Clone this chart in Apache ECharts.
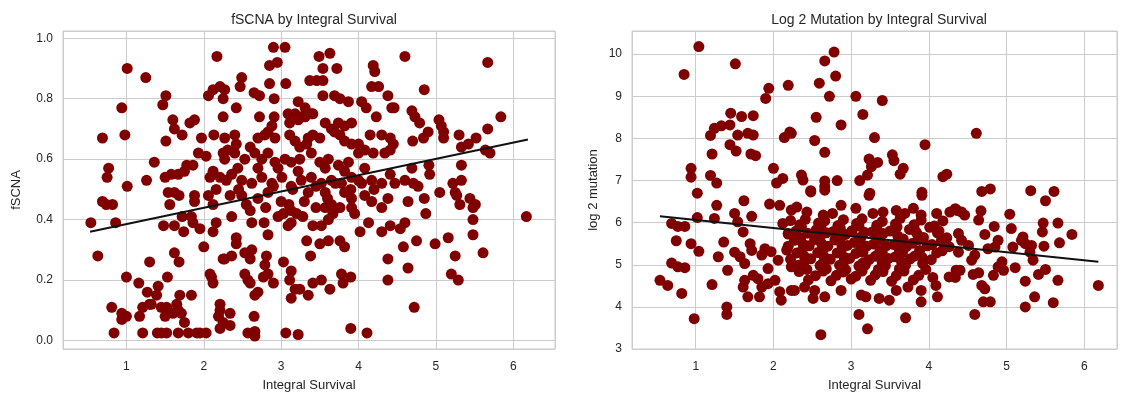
<!DOCTYPE html>
<html>
<head>
<meta charset="utf-8">
<script src="https://cdn.jsdelivr.net/npm/echarts@6/dist/echarts.min.js"></script>
<style>
  html, body { margin: 0; padding: 0; background: #ffffff; }
  #chart { width: 1122px; height: 399px; }
</style>
</head>
<body>
<div id="chart"></div>
<script>
// Integral survival vs. fSCNA, one [survival, fSCNA] pair per sample
const fscnaPoints = [
  [2.17,0.94],[1.01,0.90],[1.25,0.87],[2.12,0.83],[2.21,0.84],[2.27,0.83],[2.06,0.81],[2.25,0.80],[1.51,0.81],[1.47,0.78],
  [0.94,0.77],[2.25,0.74],[1.60,0.73],[1.62,0.70],[1.72,0.68],[1.82,0.72],[1.88,0.73],[0.69,0.67],[0.98,0.68],[1.51,0.66],
  [1.97,0.67],[2.13,0.68],[2.27,0.67],[1.93,0.62],[2.03,0.61],[2.25,0.62],[2.27,0.60],[1.36,0.59],[0.77,0.57],[0.75,0.54],
  [1.78,0.58],[1.86,0.58],[1.75,0.56],[1.67,0.55],[1.58,0.55],[1.50,0.54],[2.12,0.56],[2.08,0.54],[2.21,0.54],[2.29,0.53],
  [1.26,0.53],[1.01,0.51],
  [0.69,0.46],[0.74,0.45],[0.82,0.45],[0.54,0.39],[0.86,0.39],[0.63,0.28],[1.54,0.49],[1.62,0.49],[1.56,0.45],[1.68,0.48],
  [1.88,0.48],[1.88,0.46],[2.12,0.45],[2.06,0.48],[2.16,0.50],[1.72,0.41],[1.84,0.41],[1.86,0.39],[1.74,0.36],[1.62,0.38],
  [1.48,0.38],[1.95,0.37],[2.16,0.39],[2.12,0.36],[2.00,0.31],[1.62,0.29],[1.68,0.26],[1.30,0.26],[2.25,0.27],[1.00,0.21],
  [1.53,0.21],[1.16,0.19],[1.27,0.16],[1.41,0.18],[1.39,0.15],[1.30,0.12],[2.08,0.22],[2.10,0.21],[2.12,0.19],[0.81,0.11],
  [0.94,0.09],[1.00,0.08],[0.94,0.07],[1.17,0.08],[1.21,0.11],[1.32,0.12],[1.45,0.11],[1.52,0.11],[1.50,0.08],[1.60,0.09],
  [1.65,0.12],[1.69,0.15],[1.84,0.15],[1.67,0.10],[1.71,0.09],[1.75,0.06],[2.21,0.12],[2.21,0.10],[2.19,0.08],[2.25,0.06],
  [0.84,0.025],[1.21,0.025],[1.40,0.025],[1.45,0.025],[1.52,0.025],[1.67,0.025],[1.80,0.025],[1.91,0.025],[1.95,0.025],[2.03,0.025],
  [2.21,0.04],
  [2.36,0.41],[2.60,0.43],[2.62,0.39],[2.78,0.39],[2.96,0.41],[3.03,0.42],[3.13,0.43],[3.20,0.42],[3.28,0.41],[3.13,0.39],
  [3.09,0.38],[3.41,0.38],[3.52,0.38],[3.57,0.44],[3.65,0.45],[3.67,0.42],[3.76,0.44],[3.61,0.40],[3.91,0.47],[3.91,0.44],
  [4.13,0.39],[4.02,0.36],[4.30,0.36],[4.41,0.38],[4.08,0.48],[4.17,0.46],[4.38,0.47],[2.34,0.48],[2.49,0.48],[2.83,0.49],
  [3.35,0.49],[3.57,0.49],[3.82,0.49],[2.42,0.34],[2.42,0.32],[2.83,0.35],[3.33,0.33],[3.50,0.32],[3.61,0.33],[3.76,0.33],
  [3.82,0.31],[3.38,0.28],[2.27,0.27],[2.36,0.28],[2.53,0.29],[2.62,0.30],[2.60,0.27],[2.81,0.28],[2.79,0.25],[2.83,0.22],
  [3.03,0.26],[3.13,0.23],[3.11,0.20],[3.18,0.17],[2.53,0.22],[2.57,0.20],[2.60,0.19],[2.77,0.21],[2.90,0.19],[2.70,0.16],
  [2.66,0.15],[3.13,0.14],[3.24,0.17],[3.35,0.15],[3.41,0.19],[3.52,0.20],[3.63,0.17],[3.80,0.19],[3.78,0.22],[3.90,0.21],
  [4.38,0.27],[4.38,0.20],[2.34,0.09],[2.34,0.05],[2.65,0.08],[2.57,0.025],[2.66,0.03],[2.66,0.015],[3.06,0.025],[3.22,0.02],
  [3.90,0.04],[4.11,0.025],
  [6.17,0.41],[5.48,0.40],[5.48,0.35],[5.61,0.29],[5.25,0.28],[5.16,0.34],[4.99,0.32],[4.87,0.42],[4.85,0.47],[4.64,0.46],
  [4.60,0.39],[4.54,0.37],[4.75,0.33],[4.58,0.31],[4.64,0.24],[5.20,0.22],[5.29,0.20],[4.72,0.11],[5.31,0.45],[5.44,0.47],
  [5.51,0.45],[5.48,0.44],[5.05,0.49],[5.27,0.48],
  [2.90,0.97],[3.05,0.97],[3.49,0.94],[3.63,0.95],[2.85,0.91],[2.95,0.92],[3.54,0.90],[3.72,0.90],[4.19,0.91],[4.21,0.89],
  [2.49,0.87],[2.47,0.84],[2.85,0.85],[3.06,0.85],[3.37,0.86],[3.46,0.86],[3.54,0.86],[4.17,0.84],[4.26,0.84],[2.65,0.82],
  [2.72,0.81],[2.91,0.80],[3.54,0.81],[3.69,0.81],[3.76,0.80],[3.87,0.79],[4.38,0.81],[3.22,0.79],[3.31,0.77],[3.39,0.75],
  [2.42,0.77],[4.04,0.79],[4.10,0.77],[4.43,0.77],[2.72,0.74],[2.91,0.74],[3.09,0.75],[3.18,0.75],[3.26,0.74],[3.11,0.72],
  [3.22,0.73],[3.31,0.74],[3.41,0.75],[4.23,0.74],[3.57,0.72],[3.65,0.70],[3.74,0.72],[3.82,0.71],[3.91,0.72],[2.40,0.68],
  [2.42,0.65],[2.60,0.64],[2.70,0.67],[2.79,0.68],[2.88,0.71],[2.83,0.69],[2.92,0.67],[3.11,0.68],[3.18,0.66],[3.24,0.64],
  [3.35,0.67],[3.41,0.68],[3.50,0.67],[3.33,0.65],[3.69,0.69],[3.76,0.68],[3.82,0.66],[3.91,0.65],[4.00,0.65],[4.15,0.68],
  [4.30,0.68],[4.41,0.67],[4.00,0.62],[4.08,0.63],[4.19,0.62],[4.34,0.62],[4.41,0.63],[2.31,0.63],[2.40,0.62],[2.53,0.60],
  [2.66,0.62],[2.75,0.60],[2.83,0.62],[2.92,0.59],[3.05,0.60],[3.13,0.59],[3.24,0.60],[3.39,0.62],[3.50,0.59],[3.61,0.60],
  [3.74,0.58],[3.87,0.59],
  [2.36,0.55],[2.49,0.53],[2.62,0.52],[2.75,0.54],[2.88,0.52],[3.01,0.54],[3.13,0.51],[3.26,0.53],[3.39,0.54],[3.52,0.52],
  [3.65,0.53],[3.78,0.52],[3.91,0.54],[4.04,0.52],[4.17,0.53],[4.30,0.52],[4.41,0.55],[2.44,0.57],[2.70,0.57],[2.96,0.57],
  [3.22,0.56],[3.57,0.57],[3.82,0.56],[4.08,0.57],[2.45,0.50],[2.70,0.47],[2.90,0.51],[3.00,0.46],[3.15,0.50],[3.30,0.46],
  [3.45,0.51],[3.60,0.47],[3.70,0.52],[3.90,0.50],[4.00,0.53],[4.20,0.50],[4.30,0.44],[2.55,0.45],[2.80,0.44],[3.10,0.45],
  [3.45,0.44],[3.95,0.42],
  [4.60,0.94],[5.67,0.92],[4.85,0.83],[4.46,0.77],[4.69,0.76],[4.73,0.74],[4.79,0.72],[4.90,0.69],[4.84,0.67],[4.70,0.66],
  [5.04,0.73],[5.07,0.71],[5.10,0.69],[5.10,0.67],[5.30,0.68],[5.52,0.67],[5.67,0.70],[5.84,0.74],[5.33,0.64],[5.42,0.65],
  [5.64,0.63],[5.70,0.62],[4.45,0.65],[4.69,0.57],[4.91,0.58],[4.92,0.55],[5.33,0.58],[4.60,0.53],[4.71,0.52],[4.77,0.51],
  [4.47,0.52],[5.22,0.52],[5.33,0.53],[5.25,0.49]
];

// Integral survival vs. log2 mutation count, one [survival, log2 mutation] pair per sample
const mutationPoints = [
  [1.04,10.18],[0.85,9.52],[1.51,9.77],[1.94,9.19],[1.90,8.95],[2.19,9.26],[1.45,8.60],[1.59,8.52],[1.74,8.54],[1.24,8.24],
  [1.33,8.30],[1.44,8.32],[1.19,8.07],[1.54,8.08],[1.67,8.12],[1.74,8.08],[2.14,8.02],[2.21,8.15],[1.44,7.85],[1.52,7.70],
  [1.21,7.63],[1.71,7.63],[1.77,7.59],[0.94,7.29],[0.94,7.08],[1.19,7.12],[1.27,6.94],[2.00,7.29],[2.12,7.05],[2.04,6.94],
  [1.02,6.70],
  [2.78,10.05],[2.66,9.84],[2.80,9.48],[2.59,9.31],[2.72,9.00],[3.06,9.00],[3.40,8.90],[3.15,8.57],[2.55,8.50],[2.87,8.32],
  [2.23,8.12],[2.53,7.95],[2.66,7.67],[3.30,8.02],[3.95,7.85],[3.23,7.51],[3.34,7.43],[3.26,7.33],[3.53,7.61],[3.55,7.47],
  [3.67,7.29],[3.63,7.15],[3.21,7.13],[3.11,7.00],[2.36,7.13],[2.38,7.01],[2.48,6.76],[2.66,6.99],[2.66,6.86],[2.82,7.00],
  [4.18,7.09],[4.23,7.15],[3.24,6.70],[3.91,6.72],
  [4.61,8.12],[4.68,6.74],[4.79,6.80],[5.31,6.76],[5.61,6.74],
  [1.27,6.41],[1.62,6.52],[1.50,6.22],[1.72,6.15],[1.95,6.44],[2.08,6.41],[1.02,6.12],[1.24,6.10],[1.54,6.02],[0.69,5.98],
  [0.77,5.91],[0.86,5.91],[1.61,5.78],[0.75,5.57],[0.94,5.50],[1.04,5.32],[1.36,5.54],[1.29,5.19],[1.41,4.87],[1.50,5.30],
  [1.57,5.19],[1.70,5.50],[1.72,5.34],[1.63,5.03],[1.85,5.23],[1.89,5.38],[1.97,5.31],[1.93,4.91],[2.06,5.11],[2.12,5.98],
  [2.19,5.74],[2.23,6.30],[2.17,5.35],[2.23,4.95],[0.69,5.04],[0.77,4.95],[0.86,4.93],[1.21,4.53],[0.54,4.63],[0.64,4.51],
  [0.82,4.32],[1.63,4.63],[1.74,4.75],[1.80,4.67],[1.85,4.47],[1.93,4.55],[2.02,4.63],[1.61,4.47],[1.67,4.24],[1.82,4.24],
  [2.08,4.36],[2.10,4.16],[2.23,4.39],[1.40,4.00],[1.40,3.82],[0.98,3.72],
  [2.48,6.73],[2.66,6.77],[3.23,6.65],[3.91,6.65],
  [2.30,6.37],[2.43,6.25],[2.64,6.18],[2.76,6.22],[2.87,6.41],[3.06,6.34],[3.28,6.22],[3.41,6.25],[3.58,6.29],[3.69,6.22],
  [3.80,6.34],[3.90,6.18],[4.10,6.22],[4.27,6.25],[4.36,6.29],
  // dense middle of the cloud
  [2.22,6.05],[2.34,5.95],[2.41,6.08],[2.58,5.99],[2.66,6.04],[2.83,5.93],[2.90,6.07],[3.07,5.98],[3.14,6.09],[3.33,5.94],
  [3.40,6.03],[3.57,5.97],[3.63,6.10],[3.81,5.95],[3.90,6.06],[4.07,5.92],[4.18,6.04],
  [2.29,5.80],[2.36,5.90],[2.55,5.83],[2.61,5.91],[2.77,5.79],[2.86,5.87],[3.01,5.81],[3.10,5.92],[3.27,5.78],[3.33,5.88],
  [3.50,5.80],[3.59,5.90],[3.75,5.84],[3.83,5.79],[4.01,5.89],[4.13,5.80],
  [2.19,5.73],[2.35,5.64],[2.44,5.75],[2.60,5.66],[2.68,5.76],[2.86,5.63],[2.93,5.72],[3.11,5.65],[3.17,5.77],[3.34,5.62],
  [3.41,5.74],[3.60,5.68],[3.67,5.61],[3.85,5.73],[3.93,5.65],[4.11,5.76],[4.23,5.64],
  [2.27,5.58],[2.38,5.49],[2.53,5.60],[2.62,5.50],[2.79,5.59],[2.88,5.47],[3.04,5.53],[3.12,5.61],[3.29,5.49],[3.37,5.58],
  [3.55,5.48],[3.62,5.59],[3.79,5.51],[3.87,5.60],[4.04,5.48],[4.16,5.57],
  [2.19,5.44],[2.37,5.34],[2.46,5.45],[2.63,5.35],[2.70,5.44],[2.87,5.33],[2.95,5.46],[3.12,5.36],[3.20,5.44],[3.37,5.33],
  [3.45,5.45],[3.62,5.35],[3.71,5.43],[3.88,5.34],[3.98,5.45],[4.17,5.33],[4.26,5.43],
  [2.30,5.28],[2.40,5.19],[2.57,5.29],[2.65,5.20],[2.82,5.28],[2.91,5.18],[3.06,5.27],[3.15,5.30],[3.31,5.20],[3.40,5.29],
  [3.57,5.19],[3.66,5.29],[3.82,5.21],[3.91,5.18],[4.10,5.28],
  [2.22,5.13],[2.39,5.04],[2.48,5.14],[2.64,5.04],[2.73,5.13],[2.90,5.05],[2.98,5.15],[3.15,5.04],[3.23,5.12],[3.40,5.05],
  [3.48,5.15],[3.65,5.06],[3.76,5.14],[3.92,5.03],[4.03,5.12],
  [2.32,4.99],[2.43,4.89],[2.60,4.98],[2.68,4.90],[2.85,4.99],[2.93,4.88],[3.10,4.97],[3.18,4.99],[3.35,4.89],[3.44,4.98],
  [3.62,4.90],[3.70,4.99],[3.96,4.89],
  [2.33,4.84],[2.54,4.74],[2.64,4.85],[2.81,4.75],[2.90,4.83],[3.06,4.73],[3.14,4.85],[3.31,4.76],[3.41,4.84],[3.58,4.74],
  [3.68,4.85],[3.87,4.75],
  [2.45,4.64],[2.74,4.62],[3.00,4.66],[3.25,4.63],[3.52,4.61],[3.80,4.64],[4.05,4.70],
  [2.27,4.39],[2.40,4.47],[2.53,4.39],[2.51,4.20],[2.66,4.24],[2.87,4.39],[3.13,4.28],[3.19,4.24],[3.36,4.20],[3.49,4.16],
  [3.58,4.39],[3.73,4.47],[3.90,4.39],[3.90,4.12],[4.09,4.51],[4.11,4.24],[4.26,4.71],[4.35,4.87],[3.10,3.82],[3.21,3.48],
  [3.70,3.74],[2.61,3.34],
  [5.50,6.52],[4.34,6.33],[4.42,6.25],[4.46,6.18],[4.67,6.28],[4.64,6.06],[5.04,6.20],[4.84,5.91],[5.06,5.86],[5.47,5.99],
  [5.46,5.78],[5.66,5.99],[5.84,5.72],[5.68,5.52],[4.38,5.74],[4.42,5.58],[4.38,5.30],[4.51,5.46],[4.72,5.72],[4.89,5.58],
  [4.76,5.38],[4.85,5.42],[5.08,5.42],[5.21,5.66],[5.24,5.50],[5.32,5.46],[5.30,5.30],[5.34,5.11],[5.48,5.44],[5.19,5.58],
  [4.55,5.11],[4.59,5.23],[4.40,4.87],[4.34,4.70],[4.57,4.77],[4.64,4.81],[4.68,4.51],[4.72,4.43],[4.83,4.75],[4.89,4.95],
  [4.96,4.87],[5.11,4.93],[4.94,5.07],[4.70,4.12],[4.79,4.12],[4.59,3.82],[5.24,4.61],[5.36,4.24],[5.24,4.00],[5.60,4.10],
  [5.41,4.77],[5.50,4.89],[5.66,4.63],[6.18,4.51]
];

// Fitted regression lines (end points over the observed survival range)
const fscnaTrend = [[0.53, 0.36], [6.19, 0.665]];
const mutationTrend = [[0.54, 6.15], [6.18, 5.07]];

// Panel titles and axis names
const panelTitles = ['fSCNA by Integral Survival', 'Log 2 Mutation by Integral Survival'];
const xAxisName = 'Integral Survival';
const yAxisNames = ['fSCNA', 'log 2 mutation'];

const chart = echarts.init(document.getElementById('chart'), null, { renderer: 'canvas' });

const FONT = '"Liberation Sans", Arial, Helvetica, sans-serif';
const TEXT = '#262626';
const GRID = '#cccccc';
const DOT = '#800000';

function xAxisFor(gridIndex, min, max) {
  return {
    type: 'value', gridIndex, min, max, splitNumber: 5,
    name: xAxisName, nameLocation: 'middle', nameGap: 30,
    nameTextStyle: { color: TEXT, fontSize: 13, fontFamily: FONT },
    axisLine: { show: false }, axisTick: { show: false },
    axisLabel: { color: TEXT, fontSize: 12, fontFamily: FONT, margin: 12, showMinLabel: false, showMaxLabel: false },
    splitLine: { show: true, lineStyle: { color: GRID, width: 1 } }
  };
}

function yAxisFor(gridIndex, min, max, splitNumber, name, nameGap, fmt, showMin) {
  return {
    type: 'value', gridIndex, min, max, splitNumber,
    name, nameLocation: 'middle', nameGap,
    nameTextStyle: { color: TEXT, fontSize: 13, fontFamily: FONT },
    axisLine: { show: false }, axisTick: { show: false },
    axisLabel: { color: TEXT, fontSize: 12, fontFamily: FONT, margin: 10, showMinLabel: showMin, showMaxLabel: false, formatter: fmt },
    splitLine: { show: true, lineStyle: { color: GRID, width: 1 } }
  };
}

chart.setOption({
  animation: false,
  backgroundColor: '#ffffff',
  textStyle: { fontFamily: FONT },
  title: [
    { text: panelTitles[0], left: 309, top: 8, textAlign: 'center',
      textStyle: { color: TEXT, fontSize: 14, fontWeight: 'normal', fontFamily: FONT } },
    { text: panelTitles[1], left: 874, top: 8, textAlign: 'center',
      textStyle: { color: TEXT, fontSize: 14, fontWeight: 'normal', fontFamily: FONT } }
  ],
  grid: [
    { left: 63, top: 31, width: 492, height: 318, show: true, borderColor: GRID, borderWidth: 1, containLabel: false },
    { left: 632, top: 31, width: 485, height: 318, show: true, borderColor: GRID, borderWidth: 1, containLabel: false }
  ],
  xAxis: [
    xAxisFor(0, 0.18, 6.54),
    xAxisFor(1, 0.18, 6.42)
  ],
  yAxis: [
    yAxisFor(0, -0.028, 1.024, 5, yAxisNames[0], 40, v => v.toFixed(1), false),
    yAxisFor(1, 3, 10.55, 8, yAxisNames[1], 32, v => String(v), true)
  ],
  series: [
    { type: 'scatter', xAxisIndex: 0, yAxisIndex: 0, data: fscnaPoints, symbolSize: 11,
      itemStyle: { color: DOT, opacity: 1 }, silent: true },
    { type: 'line', xAxisIndex: 0, yAxisIndex: 0, data: fscnaTrend, symbol: 'none',
      lineStyle: { color: '#111111', width: 2 }, silent: true, z: 3 },
    { type: 'scatter', xAxisIndex: 1, yAxisIndex: 1, data: mutationPoints, symbolSize: 11,
      itemStyle: { color: DOT, opacity: 1 }, silent: true },
    { type: 'line', xAxisIndex: 1, yAxisIndex: 1, data: mutationTrend, symbol: 'none',
      lineStyle: { color: '#111111', width: 2 }, silent: true, z: 3 }
  ]
});
</script>
</body>
</html>
